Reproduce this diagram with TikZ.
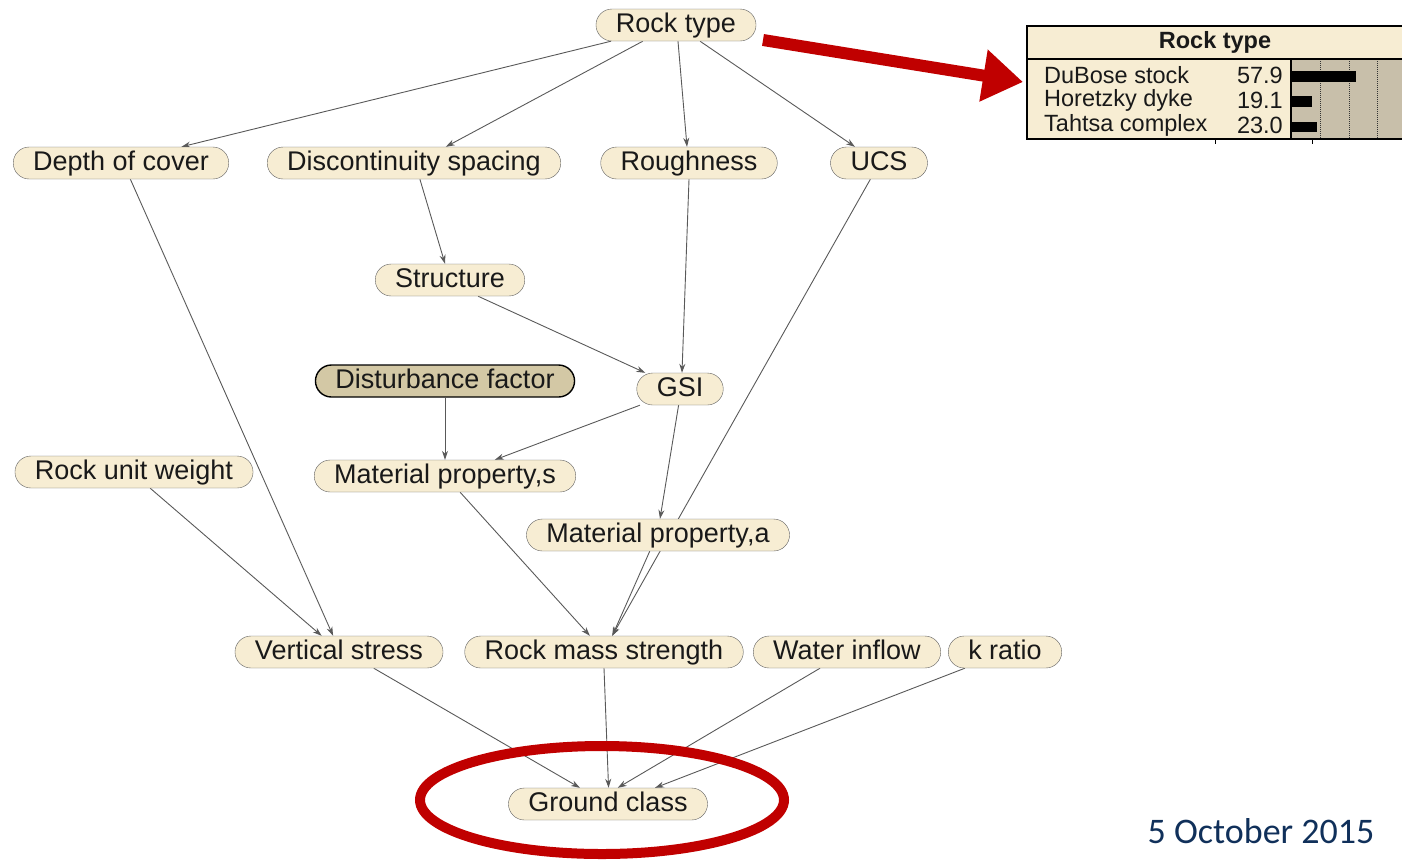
\documentclass[tikz,border=0pt]{standalone}
\usepackage{fontspec}
\setmainfont{Liberation Sans}
\newfontfamily\datefont{Carlito}
\usepackage{xcolor}
\usepackage{tikz}
\usetikzlibrary{arrows.meta,backgrounds,positioning}
\definecolor{nodecream}{HTML}{F7EDD3}
\definecolor{nodeedge}{HTML}{5E5E5E}
\definecolor{fixedfill}{HTML}{D3C8A5}
\definecolor{bartan}{HTML}{C8BFAA}
\definecolor{slidered}{HTML}{C00000}
\definecolor{datenavy}{HTML}{10305A}

\begin{document}
\begin{tikzpicture}[x=1pt,y=-1pt,
	bn/.style={draw=nodeedge,fill=nodecream,rounded corners=16pt,
		minimum height=32pt,inner xsep=20pt,inner ysep=3.5pt,
		text height=19.5pt,text depth=5.5pt,text=black!90,
		font=\fontsize{27}{30}\selectfont},
	bfixed/.style={bn,fill=fixedfill,draw=black,line width=1.4pt},
	link/.style={draw=black!65,line width=0.9pt,-{Stealth[length=9pt,width=6pt]}},
	tabtext/.style={inner sep=0pt,font=\fontsize{23.5}{26}\selectfont,text=black!90}]
	\useasboundingbox (0,0) rectangle (1402,860);

	\node[bn] (rock)   at (676,25)  {Rock type};
	\node[bn] (depth)  at (121,163) {Depth of cover};
	\node[bn] (disc)   at (414,163) {Discontinuity spacing};
	\node[bn] (rough)  at (689,163) {Roughness};
	\node[bn] (ucs)    at (879,163) {UCS};
	\node[bn] (struct) at (450,280) {Structure};
	\node[bfixed] (dist) at (445,381) {Disturbance factor};
	\node[bn] (gsi)    at (680,389) {GSI};
	\node[bn] (unit)   at (134,472) {Rock unit weight};
	\node[bn] (mats)   at (445,476) {Material property,s};
	\node[bn] (mata)   at (658,535) {Material property,a};
	\node[bn] (vstress) at (339,652) {Vertical stress};
	\node[bn] (rms)    at (604,652) {Rock mass strength};
	\node[bn] (water)  at (847,652) {Water inflow};
	\node[bn] (kratio) at (1005,652) {k ratio};
	\node[bn] (ground) at (608,804) {Ground class};

	\begin{pgfonlayer}{background}
	\draw[link] (rock.194) -- (depth.15);
	\draw[link] (rock.206) -- (disc.27);
	\draw[link] (rock.277) -- (rough.97);
	\draw[link] (rock.326) -- (ucs.146);
	\draw[link] (disc.290) -- (struct.107);
	\draw[link] (depth.300) -- (vstress.110);
	\draw[link] (rough.270) -- (gsi.83);
	\draw[link] (ucs.242) -- (rms.63);
	\draw[link] (struct.330) -- (gsi.155);
	\draw[link] (dist.270) -- (mats.90);
	\draw[link] (gsi.202) -- (mats.18);
	\draw[link] (gsi.265) -- (mata.83);
	\draw[link] (unit.315) -- (vstress.137);
	\draw[link] (mats.313) -- (rms.131);
	\draw[link] (mata.243) -- (rms.63);
	\draw[link] (vstress.335) -- (ground.150);
	\draw[link] (rms.270) -- (ground.88);
	\draw[link] (water.211) -- (ground.59);
	\draw[link] (kratio.202) -- (ground.19);
	\end{pgfonlayer}

	\fill[nodecream] (1027,26) rectangle (1402,139);
	\fill[bartan] (1291,59) rectangle (1402,139);
	\foreach \gx in {1320,1349,1377}
		\draw[black!80,densely dotted,line width=1pt] (\gx,59) -- (\gx,139);
	\fill[black] (1291,71) rectangle (1356,82);
	\fill[black] (1291,96) rectangle (1312,107);
	\fill[black] (1291,122) rectangle (1317,132);
	\draw[black,line width=1.6pt] (1402,26) -- (1027,26) -- (1027,139) -- (1402,139);
	\draw[black,line width=1.6pt] (1027,59) -- (1402,59);
	\draw[black,line width=1.6pt] (1291,59) -- (1291,139);
	\draw[black,line width=1pt] (1215,139) -- (1215,144);
	\draw[black,line width=1pt] (1312,139) -- (1312,144);
	\node[tabtext,font=\fontsize{23.5}{26}\selectfont\bfseries] (tabhead) at (1215,42) {Rock type};
	\node[tabtext,anchor=west] (dubose) at (1044,75) {DuBose stock};
	\node[tabtext,anchor=west] (horetzky) at (1044,100) {Horetzky dyke};
	\node[tabtext,anchor=west] (tahtsa) at (1044,125) {Tahtsa complex};
	\node[tabtext,anchor=east] (pdubose) at (1283,75) {57.9};
	\node[tabtext,anchor=east] (phoretzky) at (1283,100) {19.1};
	\node[tabtext,anchor=east] (ptahtsa) at (1283,125) {23.0};

	\coordinate (calloutS) at (763,40);
	\coordinate (calloutE) at (1023,82);
	\draw[slidered,line width=12pt,-{Triangle[length=40pt,width=50pt]}] (calloutS) -- (calloutE);
	\draw[slidered,line width=10pt] (602,800) ellipse [x radius=182pt,y radius=54pt];

	\node[inner sep=0pt,text=datenavy,font=\datefont\fontsize{36}{40}\selectfont] (date) at (1261,831) {5 October 2015};
\end{tikzpicture}
\end{document}
